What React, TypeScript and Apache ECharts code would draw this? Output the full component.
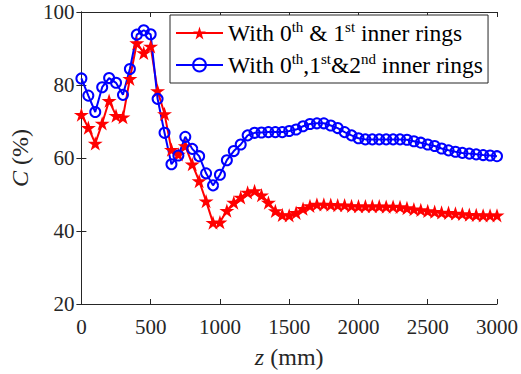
import React, { useEffect, useRef } from 'react';
import * as echarts from 'echarts';

const zValues = [
  0, 50, 100, 150, 200, 250, 300, 350, 400, 450, 500, 550, 600, 650, 700, 750, 800, 850, 900, 950,
  1000, 1050, 1100, 1150, 1200, 1250, 1300, 1350, 1400, 1450, 1500, 1550, 1600, 1650, 1700, 1750,
  1800, 1850, 1900, 1950, 2000, 2050, 2100, 2150, 2200, 2250, 2300, 2350, 2400, 2450, 2500, 2550,
  2600, 2650, 2700, 2750, 2800, 2850, 2900, 2950, 3000,
];

const ring01 = [
  71.9, 68.3, 64.0, 69.5, 75.7, 71.6, 71.2, 81.7, 91.5, 88.8, 90.6, 78.4, 72.1, 62.3, 61.0, 63.3,
  58.3, 53.7, 48.2, 42.3, 42.4, 45.6, 47.8, 49.2, 50.6, 51.0, 49.8, 47.8, 45.5, 44.4, 44.3, 45.0,
  46.1, 46.9, 47.3, 47.3, 47.2, 47.1, 47.1, 46.9, 46.8, 46.8, 46.8, 46.8, 46.7, 46.7, 46.6, 46.3,
  46.0, 45.8, 45.5, 45.3, 45.1, 45.0, 44.8, 44.7, 44.5, 44.4, 44.3, 44.3, 44.3,
];

const ring012 = [
  81.8, 77.1, 72.6, 79.4, 81.9, 80.6, 77.3, 84.4, 93.8, 95.0, 93.9, 76.2, 66.9, 58.3, 60.7, 65.8,
  62.5, 60.5, 55.8, 52.5, 55.4, 59.4, 61.9, 63.7, 66.2, 66.9, 67.0, 67.1, 67.1, 67.1, 67.4, 67.8,
  68.7, 69.3, 69.5, 69.5, 68.9, 68.2, 67.1, 66.2, 65.4, 65.1, 65.1, 65.1, 65.1, 65.1, 65.1, 65.0,
  64.6, 64.2, 63.7, 63.3, 62.6, 62.1, 61.7, 61.4, 61.2, 61.0, 60.8, 60.7, 60.5,
];

const seriesNames = ['With 0th & 1st inner rings', 'With 0th,1st&2nd inner rings'];
const legendRich = [
  'With 0{s|th} & 1{s|st} inner rings',
  'With 0{s|th},1{s|st}&2{s|nd} inner rings',
];

const xMin = 0;
const xMax = 3000;
const xStep = 500;
const yMin = 20;
const yMax = 100;
const yStep = 20;

const FONT = "'Liberation Serif', 'Times New Roman', serif";
const AXIS_COLOR = '#262626';
const STAR =
  'path://M0,-10 L2.245,-3.09 L9.511,-3.09 L3.633,1.18 L5.878,8.09 L0,3.82 L-5.878,8.09 L-3.633,1.18 L-9.511,-3.09 L-2.245,-3.09 Z';

export default function App() {
  const ref = useRef<HTMLDivElement>(null);
  useEffect(() => {
    if (!ref.current) return;
    const chart = echarts.init(ref.current, undefined, { renderer: 'svg' });
    const axisCommon = {
      type: 'value' as const,
      axisLine: { show: true, lineStyle: { color: AXIS_COLOR, width: 1 } },
      axisTick: { show: true, inside: true, length: 5, lineStyle: { color: AXIS_COLOR } },
      splitLine: { show: false },
    };
    chart.setOption({
      animation: false,
      backgroundColor: '#fff',
      textStyle: { fontFamily: FONT },
      grid: { left: 77, right: 23, top: 12, bottom: 68, containLabel: false },
      legend: {
        left: 170,
        top: 15,
        orient: 'vertical',
        backgroundColor: '#fff',
        borderColor: AXIS_COLOR,
        borderWidth: 1,
        borderRadius: 0,
        padding: [4, 5, 4, 5],
        itemGap: 4,
        itemWidth: 47,
        itemHeight: 16,
        data: seriesNames,
        formatter: (name: string) => legendRich[seriesNames.indexOf(name)],
        textStyle: {
          fontFamily: FONT,
          fontSize: 23.5,
          color: '#000',
          lineHeight: 28,
          rich: {
            s: { fontFamily: FONT, fontSize: 15, color: '#000', lineHeight: 14, verticalAlign: 'top' },
          },
        },
      },
      xAxis: [
        {
          ...axisCommon,
          position: 'bottom',
          min: xMin,
          max: xMax,
          interval: xStep,
          axisLabel: {
            fontFamily: FONT,
            fontSize: 21,
            color: AXIS_COLOR,
            margin: 12,
            formatter: (v: number) => String(v),
          },
          name: '{i|z} (mm)',
          nameLocation: 'middle',
          nameGap: 41,
          nameTextStyle: {
            fontFamily: FONT,
            fontSize: 24,
            color: AXIS_COLOR,
            rich: { i: { fontFamily: FONT, fontSize: 24, fontStyle: 'italic', color: AXIS_COLOR } },
          },
        },
        {
          ...axisCommon,
          position: 'top',
          min: xMin,
          max: xMax,
          interval: xStep,
          axisLabel: { show: false },
        },
      ],
      yAxis: [
        {
          ...axisCommon,
          position: 'left',
          min: yMin,
          max: yMax,
          interval: yStep,
          axisLabel: {
            fontFamily: FONT,
            fontSize: 21,
            color: AXIS_COLOR,
            margin: 7,
            formatter: (v: number) => String(v),
          },
          name: '{i|C} (%)',
          nameLocation: 'middle',
          nameRotate: 90,
          nameGap: 44,
          nameTextStyle: {
            fontFamily: FONT,
            fontSize: 24,
            color: AXIS_COLOR,
            rich: { i: { fontFamily: FONT, fontSize: 24, fontStyle: 'italic', color: AXIS_COLOR } },
          },
        },
        {
          ...axisCommon,
          position: 'right',
          min: yMin,
          max: yMax,
          interval: yStep,
          axisLabel: { show: false },
        },
      ],
      series: [
        {
          name: seriesNames[0],
          type: 'line',
          xAxisIndex: 0,
          yAxisIndex: 0,
          clip: false,
          data: zValues.map((z, i) => [z, ring01[i]]),
          symbol: STAR,
          symbolSize: 15,
          symbolKeepAspect: true,
          lineStyle: { color: '#ff0000', width: 2 },
          itemStyle: { color: '#ff0000', borderWidth: 0 },
        },
        {
          name: seriesNames[1],
          type: 'line',
          xAxisIndex: 0,
          yAxisIndex: 0,
          clip: false,
          data: zValues.map((z, i) => [z, ring012[i]]),
          symbol: 'circle',
          symbolSize: 10,
          lineStyle: { color: '#0000ff', width: 2 },
          itemStyle: { color: 'none', borderColor: '#0000ff', borderWidth: 2 },
        },
      ],
    });
    return () => chart.dispose();
  }, []);
  return (
    <div
      ref={ref}
      style={{ position: 'fixed', left: 0, top: 0, width: 521, height: 374, background: '#fff' }}
    />
  );
}
